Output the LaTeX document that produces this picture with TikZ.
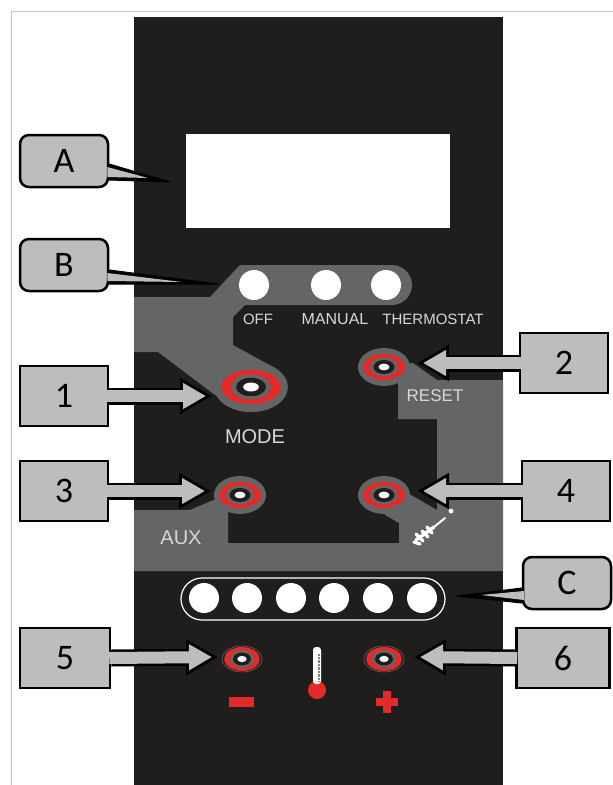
\documentclass[tikz,border=0pt]{standalone}
\usepackage{fontspec}
\setmainfont{Carlito}
\newfontfamily\panelfont{Liberation Sans}
\usetikzlibrary{arrows.meta}
\definecolor{panelblack}{HTML}{1F1E1C}
\definecolor{panelgray}{HTML}{646567}
\definecolor{boxgray}{HTML}{BDBDBD}
\definecolor{ledred}{HTML}{E42A28}
\definecolor{labelgray}{HTML}{D8D8D8}
\definecolor{framegray}{HTML}{C4C4C4}
\tikzset{
    numbox/.style={draw=black,line width=2.5pt,fill=boxgray,inner sep=0pt,minimum width=88pt,minimum height=60pt,font=\fontsize{36}{40}\selectfont},
    letterbox/.style={numbox,minimum height=52pt,rounded corners=9pt},
    pointerback/.style={draw=black,fill=black,line width=1pt,line join=round},
    pointerfront/.style={fill=boxgray},
    arrowback/.style={black,line width=17pt,-{Triangle[length=32pt,width=34pt]}},
    arrowfront/.style={boxgray,line width=12pt,shorten >=6pt,-{Triangle[length=23pt,width=24.5pt]}},
    led/.style={circle,fill=white,inner sep=0pt,minimum size=30pt},
    paneltext/.style={text=labelgray,inner sep=0pt,font=\panelfont\fontsize{#1}{#1}\selectfont},
    screwstroke/.style={white,line width=3.4pt,line cap=round},
}
% one push button: position, x scale, y scale, style of the outer ring
\newcommand{\knob}[4]{
    \begin{scope}[shift={#1},xscale=#2,yscale=#3]
        \path[#4] (0,0) ellipse [x radius=26,y radius=19];
        \fill[ledred] (0,0) ellipse [x radius=21,y radius=13];
        \fill[panelgray] (0,0) ellipse [x radius=14,y radius=9.5];
        \fill[panelblack] (0,0) ellipse [x radius=10.5,y radius=7];
        \fill[white] (0,0) ellipse [x radius=5.5,y radius=3.4];
    \end{scope}
}
\begin{document}
\begin{tikzpicture}[x=1pt,y=-1pt]
\useasboundingbox (0,0) rectangle (613,785);
% page frame
\draw[framegray,line width=.8pt] (613,11) -- (11,11) -- (11,785);
% panel
\fill[panelblack] (134,17) rectangle (503,785);
\fill[white] (186,134) rectangle (450,228);
% gray areas
\fill[panelgray] (134,297) -- (210,297) -- (240,265) -- (392,265) arc [start angle=-90,end angle=90,radius=20] -- (245,305)
    -- (233,317) -- (233,345) -- (275,368) -- (251,390) -- (215,395) -- (158,352) -- (134,352) -- cycle;
\fill[panelgray] (503,380) -- (437,380) -- (413,363) -- (384,367) -- (398,383) -- (398,419) -- (437,419) -- (437,510)
    -- (411,495) -- (384,495) -- (385,515) -- (399,523) -- (399,543) -- (228,543) -- (228,500) -- (240,495) -- (218,498) -- (190,510)
    -- (134,510) -- (134,571) -- (503,571) -- cycle;
% buttons
\knob{(251,387)}{1.42}{1.32}{fill=panelgray}
\knob{(384,367)}{1}{1}{fill=panelgray}
\knob{(240,495)}{1}{1}{fill=panelgray}
\knob{(384,495)}{1}{1}{fill=panelgray}
\draw[panelgray,line width=.6pt] (242,659) ellipse [x radius=20,y radius=13];
\draw[panelgray,line width=.6pt] (384,659) ellipse [x radius=20,y radius=13];
\knob{(242,659)}{.85}{.92}{}
\knob{(384,659)}{.85}{.92}{}
% mode leds
\node[led] (off) at (254,285) {};
\node[led] (manual) at (326,285) {};
\node[led] (thermostat) at (386,285) {};
\node[paneltext=15] (offlabel) at (258,319) {OFF};
\node[paneltext=16] (manuallabel) at (335,319) {MANUAL};
\node[paneltext=15] (thermostatlabel) at (433,319) {THERMOSTAT};
\node[paneltext=17] (resetlabel) at (435,396) {RESET};
\node[paneltext=20] (modelabel) at (255,437) {MODE};
\node[paneltext=20] (auxlabel) at (181,538) {AUX};
% screw symbol
\draw[screwstroke] (414,542) -- (420,544) (416,534) -- (423,541) (422,531) -- (428,537) (427,527) -- (432,533);
\draw[screwstroke] (416,540) -- (434,527);
\draw[white,line width=2pt,line cap=round] (434,527) -- (445,518);
\fill[white] (451,511) circle [radius=2.4];
% level leds
\draw[white,line width=1.2pt,rounded corners=21pt] (181,578) rectangle (445,620);
\node[led] (levelone) at (204,598) {};
\node[led] (leveltwo) at (247,598) {};
\node[led] (levelthree) at (291,598) {};
\node[led] (levelfour) at (334,598) {};
\node[led] (levelfive) at (378,598) {};
\node[led] (levelsix) at (422,598) {};
% thermometer and signs
\fill[ledred] (317,690) circle [radius=9];
\fill[white,rounded corners=3pt] (313,647) rectangle (321,684);
\draw[gray,line width=1.5pt,dash pattern=on .6pt off .8pt] (319,654) -- (319,682);
\fill[ledred] (229,697) rectangle (254,707);
\fill[ledred] (376,698) rectangle (398,706);
\fill[ledred] (383,691) rectangle (391,713);
% numbered boxes
\node[numbox] (boxone) at (64,396) {1};
\node[numbox] (boxtwo) at (564,363) {2};
\node[numbox] (boxthree) at (64,491) {3};
\node[numbox] (boxfour) at (566,491) {4};
\node[numbox,minimum width=90pt] (boxfive) at (65,658) {5};
\node[numbox,minimum width=93pt] (boxsix) at (563,658) {6};
\coordinate (tipone) at (212,396);
\coordinate (tiptwo) at (417,363);
\coordinate (tipthree) at (211,491);
\coordinate (tipfour) at (417,491);
\coordinate (tipfive) at (218,657);
\coordinate (tipsix) at (414,657);
\draw[arrowback] (boxone.east) -- (tipone);
\draw[arrowfront] ([xshift=-2pt]boxone.east) -- (tipone);
\draw[arrowback] (boxtwo.west) -- (tiptwo);
\draw[arrowfront] ([xshift=2pt]boxtwo.west) -- (tiptwo);
\draw[arrowback] (boxthree.east) -- (tipthree);
\draw[arrowfront] ([xshift=-2pt]boxthree.east) -- (tipthree);
\draw[arrowback] (boxfour.west) -- (tipfour);
\draw[arrowfront] ([xshift=2pt]boxfour.west) -- (tipfour);
\draw[arrowback] (boxfive.east) -- (tipfive);
\draw[arrowfront] ([xshift=-2pt]boxfive.east) -- (tipfive);
\draw[arrowback] (boxsix.west) -- (tipsix);
\draw[arrowfront] ([xshift=2pt]boxsix.west) -- (tipsix);
% letter boxes
\node[letterbox] (boxa) at (64,161) {A};
\node[letterbox] (boxb) at (64,265) {B};
\node[letterbox] (boxc) at (567,583) {C};
\coordinate (tipa) at (170,182);
\coordinate (tipb) at (218,284);
\coordinate (tipc) at (457,596);
\coordinate (innera) at (148,178);
\coordinate (innerb) at (182,282);
\coordinate (innerc) at (481,595);
\draw[pointerback] ([yshift=-3pt]boxa.east) -- (tipa) -- ([yshift=-19pt]boxa.east) -- cycle;
\fill[pointerfront] ([shift={(-2pt,-6pt)}]boxa.east) -- (innera) -- ([shift={(-2pt,-16pt)}]boxa.east) -- cycle;
\draw[pointerback] ([yshift=-5pt]boxb.east) -- (tipb) -- ([yshift=-19pt]boxb.east) -- cycle;
\fill[pointerfront] ([shift={(-2pt,-8pt)}]boxb.east) -- (innerb) -- ([shift={(-2pt,-16pt)}]boxb.east) -- cycle;
\draw[pointerback] ([yshift=-5pt]boxc.west) -- (tipc) -- ([yshift=-20pt]boxc.west) -- cycle;
\fill[pointerfront] ([shift={(2pt,-8pt)}]boxc.west) -- (innerc) -- ([shift={(2pt,-17pt)}]boxc.west) -- cycle;
\end{tikzpicture}
\end{document}
